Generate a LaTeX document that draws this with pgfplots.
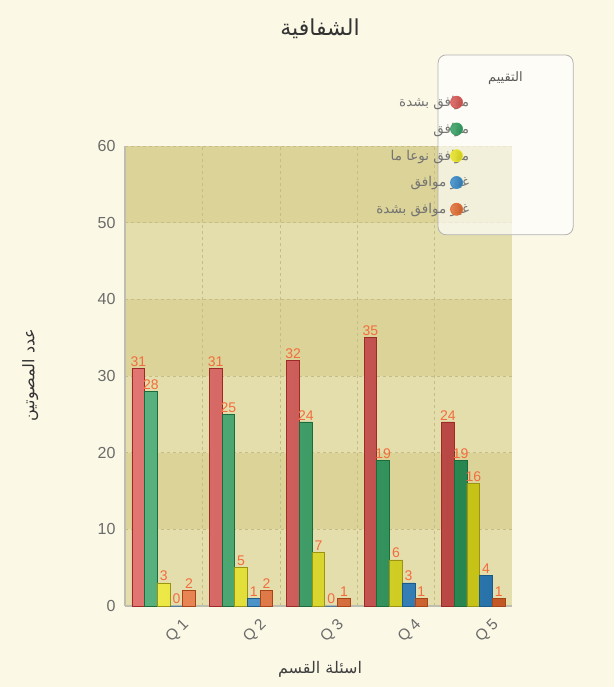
\documentclass[border=0pt]{standalone}
\usepackage{fontspec}
\setmainfont{Liberation Sans}
\newfontfamily\arabicfont[Script=Arabic]{DejaVu Sans}
\TeXXeTstate=1
\usepackage{pgfplots}
\usepackage{pgfplotstable}
\pgfplotsset{compat=1.18}
\definecolor{pagebg}{HTML}{FBF8E6}
\definecolor{banddark}{HTML}{DCD398}
\definecolor{bandlight}{HTML}{E4DDAC}
\definecolor{gridc}{HTML}{C6BC86}
\definecolor{axc}{HTML}{BDBDB0}
\definecolor{tickc}{HTML}{6B6B6B}
\definecolor{lblc}{HTML}{F26D3D}
\definecolor{cr}{HTML}{D9534F}\definecolor{cre}{HTML}{9E2A26}
\definecolor{cg}{HTML}{2E9E5E}\definecolor{cge}{HTML}{1B6B3C}
\definecolor{cy}{HTML}{E8E41A}\definecolor{cye}{HTML}{9A9410}
\definecolor{cb}{HTML}{2F86C8}\definecolor{cbe}{HTML}{1C5A8A}
\definecolor{co}{HTML}{E3672A}\definecolor{coe}{HTML}{A8441A}
\pgfplotstableread{
x r g y b o
1 31 28 3 0 2
2 31 25 5 1 2
3 32 24 7 0 1
4 35 19 6 3 1
5 24 19 16 4 1
}\data
\pgfplotsset{set layers,
  barst/.style 2 args={draw=#2, line width=0.9pt, left color=#1!80!white, middle color=#1!70!white, right color=#1!85!black,
    legend image code/.code={\path (0pt,0pt); \fill[#1, opacity=0.8, overlay] (-15pt,0pt) circle (6pt);}}}
\begin{document}
\pagecolor{pagebg}%
\begin{tikzpicture}
\path (0,0) rectangle (614pt,687pt);
\begin{pgfinterruptboundingbox}
\begin{axis}[
  at={(125pt,81pt)}, anchor=south west,
  scale only axis, width=387pt, height=460pt,
  clip=false,
  ybar=0pt, bar width=12.7pt,
  xmin=0.5, xmax=5.5, ymin=0, ymax=60,
  xtick={1,2,3,4,5}, xticklabels={Q 1,Q 2,Q 3,Q 4,Q 5},
  minor xtick={1.5,2.5,3.5,4.5},
  ytick={0,10,...,60},
  /pgf/number format/assume math mode=true,
  major tick length=0pt, minor tick length=0pt,
  axis x line*=bottom, axis y line*=left,
  axis line style={axc, line width=1.6pt, -},
  ymajorgrids, xminorgrids,
  major grid style={gridc, dashed, line width=0.6pt},
  minor grid style={gridc, dashed, line width=0.6pt},
  tick label style={text=tickc, font=\fontsize{16}{16}\selectfont},
  yticklabel style={xshift=-6pt},
  xticklabel style={anchor=center, xshift=14pt, yshift=-25pt, rotate=45, font=\fontsize{15.5}{15.5}\selectfont},
  title={{\arabicfont\beginR الشفافية\endR}},
  title style={at={(axis description cs:0.504,1.242)}, anchor=center, font=\fontsize{22}{22}\selectfont, text=black!80},
  xlabel={{\arabicfont\beginR اسئلة القسم\endR}},
  xlabel style={at={(axis description cs:0.504,-0.138)}, anchor=center, font=\fontsize{16}{16}\selectfont, text=black!75},
  ylabel={{\arabicfont\beginR عدد المصوتين\endR}},
  ylabel style={at={(axis description cs:-0.245,0.502)}, anchor=center, rotate=0, font=\fontsize{16}{16}\selectfont, text=black!80},
  nodes near coords,
  every node near coord/.append style={text=lblc, font=\fontsize{14}{14}\selectfont, inner sep=1.5pt},
  legend cell align=right, legend plot pos=right,
  legend style={at={(rel axis cs:0.905,1.117)}, anchor=north east, draw=none, fill=none,
    font=\fontsize{13.5}{13.5}\selectfont, text=black!55, row sep=11pt, /tikz/every even column/.append style={column sep=0pt}},
]
\begin{pgfonlayer}{axis background}
\fill[bandlight] (axis cs:0.5,0) rectangle (axis cs:5.5,10);
\fill[banddark] (axis cs:0.5,10) rectangle (axis cs:5.5,20);
\fill[bandlight] (axis cs:0.5,20) rectangle (axis cs:5.5,30);
\fill[banddark] (axis cs:0.5,30) rectangle (axis cs:5.5,40);
\fill[bandlight] (axis cs:0.5,40) rectangle (axis cs:5.5,50);
\fill[banddark] (axis cs:0.5,50) rectangle (axis cs:5.5,60);
\end{pgfonlayer}
\addplot[barst={cr}{cre}] table[x=x,y=r] {\data};
\addlegendentry{{\arabicfont\beginR موافق بشدة\endR}}
\addplot[barst={cg}{cge}] table[x=x,y=g] {\data};
\addlegendentry{{\arabicfont\beginR موافق\endR}}
\addplot[barst={cy}{cye}] table[x=x,y=y] {\data};
\addlegendentry{{\arabicfont\beginR موافق نوعا ما\endR}}
\addplot[barst={cb}{cbe}] table[x=x,y=b] {\data};
\addlegendentry{{\arabicfont\beginR غير موافق\endR}}
\addplot[barst={co}{coe}] table[x=x,y=o] {\data};
\addlegendentry{{\arabicfont\beginR غير موافق بشدة\endR}}
\draw[rounded corners=8pt, draw=black!30, line width=0.8pt, fill=white, fill opacity=0.65]
  (rel axis cs:0.809,0.807) rectangle (rel axis cs:1.158,1.198);
\node[text=black!65, font=\fontsize{13}{13}\selectfont] at (rel axis cs:0.983,1.148) {{\arabicfont\beginR التقييم\endR}};
\end{axis}
\end{pgfinterruptboundingbox}
\end{tikzpicture}
\end{document}
